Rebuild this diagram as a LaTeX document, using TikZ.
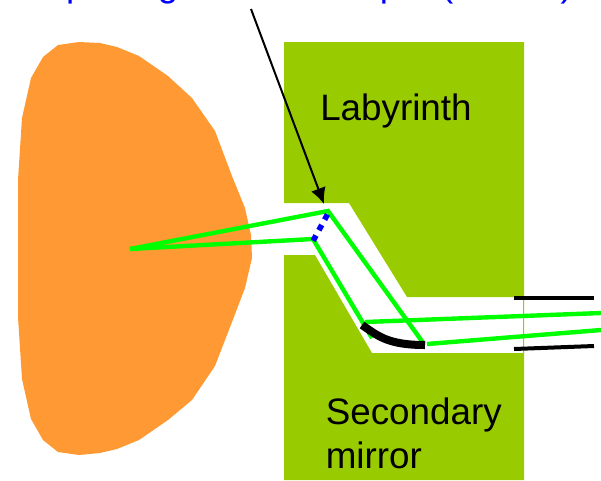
\documentclass[tikz,border=0pt]{standalone}
\usepackage{fontspec}
\usetikzlibrary{arrows.meta}
\setmainfont{Liberation Sans}
\definecolor{blobcol}{RGB}{255,153,51}
\definecolor{wallcol}{RGB}{153,204,0}
\definecolor{raycol}{RGB}{0,255,0}
\definecolor{capcol}{RGB}{0,0,255}
\tikzset{x=0.75pt,y=-0.75pt,
  rayline/.style={draw=raycol,line width=3.3pt},
  tubeline/.style={draw=black,line width=3pt},
  lbl/.style={font=\fontsize{27.6pt}{33pt}\selectfont,text=black,anchor=base west,inner sep=0pt,align=left}}
\begin{document}
\begin{tikzpicture}
\useasboundingbox (0,0) rectangle (601,480);
\clip (0,0) rectangle (601,480);
\fill[blobcol] (18,180) -- (22,118) -- (31,78) -- (43,57) -- (58,45) -- (79,42) -- (100,43) -- (117,47) -- (139,56) -- (168,76) -- (192,98) -- (215,131) -- (232,176) -- (245,208) -- (251,235) -- (252,258) -- (245,288) -- (232,322) -- (215,366) -- (192,400) -- (168,420) -- (139,440) -- (117,449) -- (100,453) -- (79,455) -- (58,452) -- (43,440) -- (31,419) -- (22,379) -- (18,317) -- cycle;
\fill[wallcol] (284,42) -- (524,42) -- (524,480) -- (284,480) -- (284,255) -- (315,255) -- (372,353) -- (523,353) -- (523,297) -- (407,297) -- (349,203) -- (284,203) -- cycle;
\node[lbl] (lab) at (320,120) {Labyrinth};
\node[lbl] (sec) at (325.5,424) {Secondary};
\node[lbl] (mir) at (325.5,468) {mirror};
\node[font=\fontsize{27.5pt}{33pt}\selectfont,text=capcol,anchor=base west,inner sep=0pt] (top) at (19,-4) {Capturing the beam input (baffles)};
\coordinate (o) at (130,249);
\coordinate (a) at (328,211);
\coordinate (b) at (313,239);
\coordinate (c) at (424,344);
\coordinate (d) at (372,338);
\coordinate (e) at (365,322);
\coordinate (f) at (601,313);
\coordinate (g) at (427,344);
\coordinate (h) at (601,330);
\draw[rayline] (o) -- (a) -- (c);
\draw[rayline] (o) -- (b) -- (d);
\draw[rayline] (e) -- (f);
\draw[rayline] (g) -- (h);
\draw[tubeline] (514,298) -- (594,298);
\draw[tubeline] (514,349) -- (594,346);
\coordinate (d1) at (327.5,214.4);
\coordinate (d2) at (313,241);
\draw[capcol,line width=4.2pt,dash pattern=on 4.5pt off 4.5pt] (d1) -- (d2);
\draw[line width=6pt] (362,325) .. controls (378,336) and (388,345) .. (425,345);
\coordinate (t) at (251,9);
\coordinate (tip) at (324,204);
\draw[line width=1.5pt,-{Latex[length=12pt,width=11.5pt]}] (t) -- (tip);
\end{tikzpicture}
\end{document}
